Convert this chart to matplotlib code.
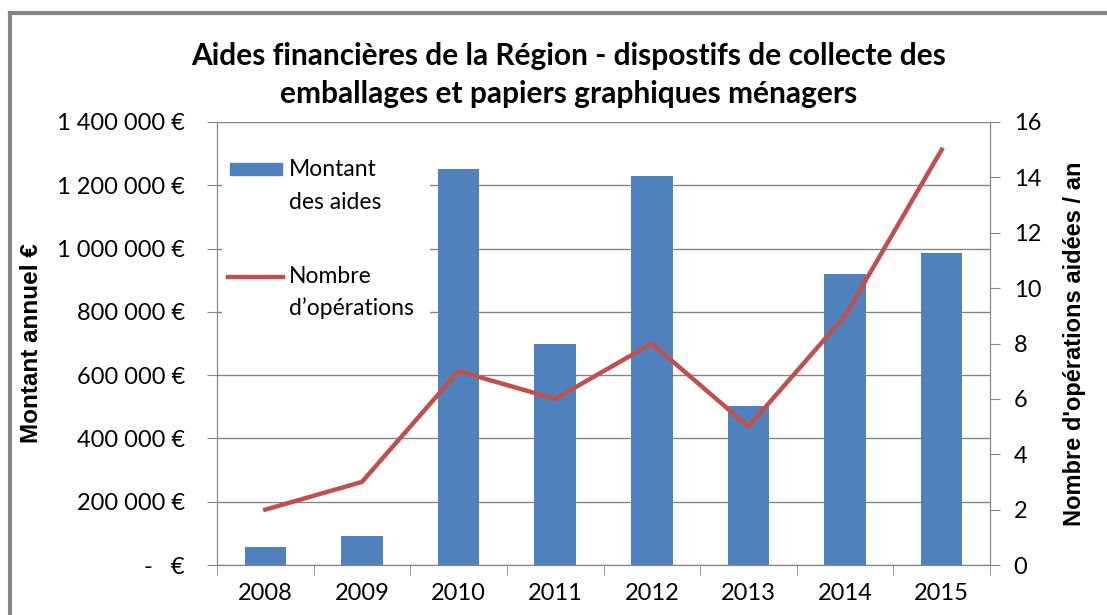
import numpy as np
import matplotlib
matplotlib.use("Agg")
import matplotlib.pyplot as plt
from matplotlib.lines import Line2D
from matplotlib.patches import Rectangle
from matplotlib.ticker import FuncFormatter, FixedLocator

# donnees
annees = ["2008", "2009", "2010", "2011", "2012", "2013", "2014", "2015"]
montants = [57000, 92000, 1250000, 700000, 1230000, 502000, 920000, 986000]
operations = [2, 3, 7, 6, 8, 5, 9, 15]

titre = "Aides financières de la Région - dispostifs de collecte des\nemballages et papiers graphiques ménagers"
leg_barres = ["Montant", "des aides"]
leg_ligne = ["Nombre", "d\u2019opérations"]

BLEU = "#4F81BD"
ROUGE = "#C0504D"
GRIS = "#868686"

plt.rcParams["font.family"] = ["Lato", "DejaVu Sans"]

fig = plt.figure(figsize=(11.07, 6.15), dpi=100)
ax = fig.add_axes([217 / 1107, 1 - 565 / 615, (990 - 217) / 1107, (565 - 122) / 615])
ax2 = ax.twinx()

x = np.arange(len(annees))
ax.bar(x, montants, width=0.43, color=BLEU, zorder=2)
ax2.plot(x, operations, color=ROUGE, lw=3.2, zorder=3)

ax.set_xlim(-0.5, len(annees) - 0.5)
ax.set_ylim(0, 1400000)
ax2.set_ylim(0, 16)
ax.set_yticks(np.arange(0, 1400001, 200000))
ax2.set_yticks(np.arange(0, 17, 2))

def fmt_euro(v, pos):
    if v == 0:
        return "-   €"
    return "{:,}".format(int(v)).replace(",", " ") + " €"

ax.yaxis.set_major_formatter(FuncFormatter(fmt_euro))
ax.grid(axis="y", color=GRIS, lw=1, zorder=0)
ax.set_axisbelow(True)

ax.set_xticks(x)
ax.set_xticklabels(annees)
ax.xaxis.set_minor_locator(FixedLocator(np.arange(-0.5, len(annees), 1.0)))
ax.tick_params(axis="x", which="major", length=0, pad=13, labelsize=17)
ax.tick_params(axis="x", which="minor", length=7, color=GRIS, direction="out")
ax.tick_params(axis="y", length=7, color=GRIS, labelsize=17, pad=16)
ax2.tick_params(axis="y", length=7, color=GRIS, labelsize=17, pad=10)

for a in (ax, ax2):
    for s in a.spines.values():
        s.set_color(GRIS)
    a.spines["top"].set_visible(False)

ax.set_ylabel("Montant annuel €", fontsize=17.5, fontweight="bold",
              family=["Liberation Sans", "DejaVu Sans"], labelpad=10)
ax2.set_ylabel("Nombre d'opérations aidées / an", fontsize=17, fontweight="bold",
               family=["Liberation Sans", "DejaVu Sans"], labelpad=16)

fig.text(0.514, 1 - 75 / 615, titre, ha="center", va="center", fontsize=21.5,
         fontweight="bold", linespacing=1.45)

# legende dessinee a la main (symbole aligne sur la premiere ligne)
ax2.add_patch(Rectangle((0.0065, 0.549), 0.269, 0.383, transform=ax2.transAxes,
                        facecolor="white", edgecolor="none", zorder=4))
ax2.add_patch(Rectangle((0.0168, 0.880), 0.0673, 0.028, transform=ax2.transAxes,
                        color=BLEU, zorder=5))
ax2.add_line(Line2D([0.014, 0.085], [0.650, 0.650], transform=ax2.transAxes,
                    color=ROUGE, lw=3.2, zorder=5))
for i, t in enumerate(leg_barres):
    ax2.text(0.093, 0.892 - i * 0.073, t, transform=ax2.transAxes, va="center",
             ha="left", fontsize=16.5, zorder=5)
for i, t in enumerate(leg_ligne):
    ax2.text(0.093, 0.652 - i * 0.073, t, transform=ax2.transAxes, va="center",
             ha="left", fontsize=16.5, zorder=5)

# cadre exterieur
fig.add_artist(Line2D([10 / 1107, 1.0], [1 - 13 / 615, 1 - 13 / 615], color=GRIS, lw=3))
fig.add_artist(Line2D([10 / 1107, 10 / 1107], [0, 1 - 13 / 615], color=GRIS, lw=3))

fig.savefig("out.png", dpi=100)
